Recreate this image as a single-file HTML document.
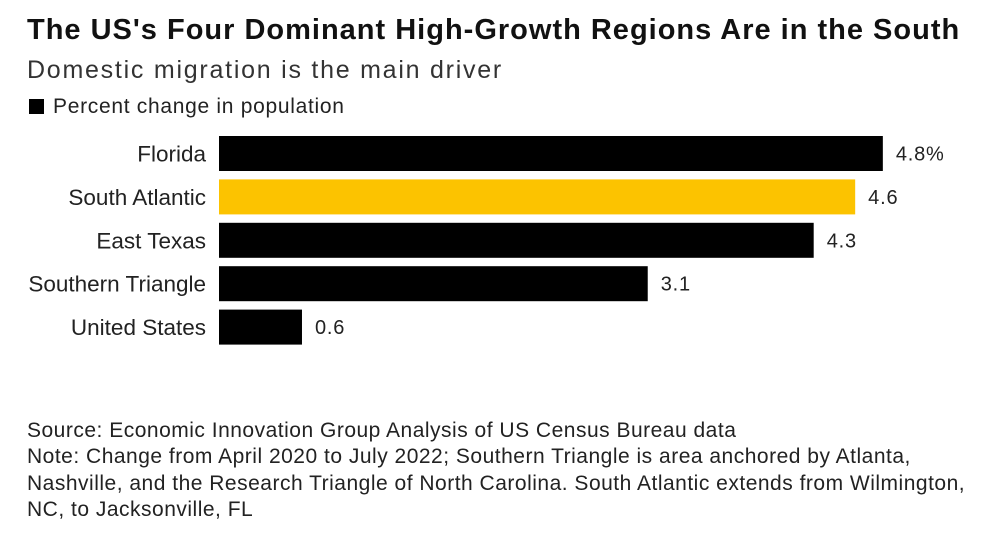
<!DOCTYPE html>
<html><head><meta charset="utf-8"><style>
body{margin:0;background:#fff;width:1000px;height:555px;overflow:hidden;font-family:"Liberation Sans",sans-serif;color:#111;}
.t{position:absolute;white-space:nowrap;}
</style></head><body>
<div class="t" style="left:27px;top:14px;font-size:29px;font-weight:bold;letter-spacing:1px;">The US's Four Dominant High-Growth Regions Are in the South</div>
<div class="t" style="left:27px;top:56px;font-size:25px;letter-spacing:1.75px;color:#333;">Domestic migration is the main driver</div>
<div class="t" style="left:29px;top:95px;font-size:21px;letter-spacing:0.7px;color:#222;"><span style="display:inline-block;width:15px;height:15px;background:#000;margin-right:9px;vertical-align:-1px;"></span>Percent change in population</div>
<svg id="chart" width="1000" height="555" style="position:absolute;left:0;top:0;" font-family="Liberation Sans, sans-serif"></svg>
<div class="t" style="left:27px;top:418px;font-size:21px;letter-spacing:0.5px;line-height:26.3px;color:#222;">Source: Economic Innovation Group Analysis of US Census Bureau data<br>Note: Change from April 2020 to July 2022; Southern Triangle is area anchored by Atlanta,<br>Nashville, and the Research Triangle of North Carolina. South Atlantic extends from Wilmington,<br>NC, to Jacksonville, FL</div>
<script>
const categories=["Florida","South Atlantic","East Texas","Southern Triangle","United States"];
const values=[4.8,4.6,4.3,3.1,0.6];
const valueLabels=["4.8%","4.6","4.3","3.1","0.6"];
const highlight=[false,true,false,false,false];
const svg=document.getElementById('chart');
const NS='http://www.w3.org/2000/svg';
const x0=219, scale=138.3, y0=136, pitch=43.4, bh=35;
const xs=v=>x0+v*scale;
const ys=i=>y0+i*pitch;
categories.forEach((c,i)=>{
  const r=document.createElementNS(NS,'rect');
  r.setAttribute('x',x0);r.setAttribute('y',ys(i));
  r.setAttribute('width',xs(values[i])-x0);r.setAttribute('height',bh);
  r.setAttribute('fill',highlight[i]?'#fcc300':'#000');
  
  
  svg.appendChild(r);
  const l=document.createElementNS(NS,'text');
  l.setAttribute('x',206);l.setAttribute('y',ys(i)+bh/2+8);
  l.setAttribute('text-anchor','end');l.setAttribute('font-size','22.5');l.setAttribute('fill','#222');
  l.textContent=c;
  
  
  svg.appendChild(l);
  const v=document.createElementNS(NS,'text');
  v.setAttribute('x',xs(values[i])+13);v.setAttribute('y',ys(i)+bh/2+7);
  v.setAttribute('font-size','20');v.setAttribute('fill','#222');
  v.setAttribute('letter-spacing','0.8');
  v.textContent=valueLabels[i];
  
  
  svg.appendChild(v);
});
</script>
</body></html>
